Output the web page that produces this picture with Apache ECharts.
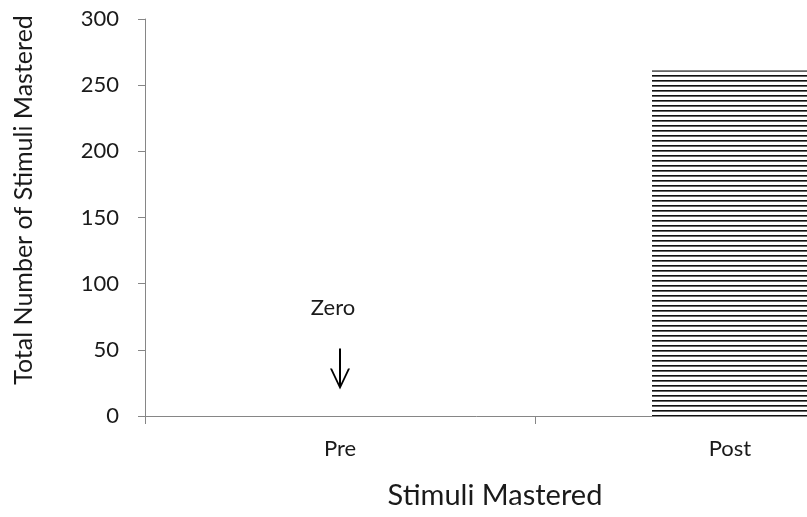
<!DOCTYPE html>
<html>
<head>
<meta charset="utf-8">
<script src="https://cdn.jsdelivr.net/npm/echarts@6/dist/echarts.min.js"></script>
<style>html,body{margin:0;padding:0;background:#fff}#c{width:807px;height:517px}</style>
</head>
<body>
<div id="c"></div>
<script>
const categories = ['Pre', 'Post'];
const values = [0, 261];
const yMin = 0, yMax = 300, yInterval = 50;
const xTitle = 'Stimuli Mastered';
const yTitle = 'Total Number of Stimuli Mastered';
const noteText = 'Zero';
const noteValue = 82;
const arrowFrom = 51;
const arrowTo = 28;

const FONT = 'Lato';
const pat = document.createElement('canvas');
pat.width = 8; pat.height = 5;
const pc = pat.getContext('2d');
pc.fillStyle = '#ffffff'; pc.fillRect(0, 0, 8, 5);
pc.fillStyle = '#111111'; pc.fillRect(0, 0, 8, 1);
pc.fillStyle = '#666666'; pc.fillRect(0, 1, 8, 1);

const chart = echarts.init(document.getElementById('c'), null, {renderer: 'canvas'});
chart.setOption({
  animation: false,
  backgroundColor: '#ffffff',
  grid: {left: 145, top: 19, width: 780, height: 397, containLabel: false, outerBoundsMode: 'none'},
  xAxis: {
    type: 'category',
    data: categories,
    axisLine: {show: true, lineStyle: {color: '#868686', width: 1}},
    axisTick: {show: true, length: 8, alignWithLabel: false, interval: 0, lineStyle: {color: '#868686'}},
    axisLabel: {color: '#1a1a1a', fontFamily: FONT, fontSize: 22, margin: 22, interval: 0}
  },
  yAxis: {
    type: 'value',
    min: yMin, max: yMax, interval: yInterval,
    axisLine: {show: true, lineStyle: {color: '#868686', width: 1}},
    axisTick: {show: true, length: 7, lineStyle: {color: '#868686'}},
    splitLine: {show: false},
    axisLabel: {color: '#1a1a1a', fontFamily: FONT, fontSize: 22, margin: 26}
  },
  graphic: [
    {type: 'text', x: 495, y: 496, style: {text: xTitle, fill: '#1a1a1a', font: '29px ' + FONT, textAlign: 'center', textVerticalAlign: 'middle'}},
    {type: 'text', x: 24, y: 200, rotation: Math.PI / 2, style: {text: yTitle, fill: '#1a1a1a', font: '25px ' + FONT, textAlign: 'center', textVerticalAlign: 'middle'}}
  ],
  series: [{
    type: 'bar',
    data: values,
    barWidth: '40%',
    itemStyle: {color: {image: pat, repeat: 'repeat'}},
    markPoint: {
      silent: true,
      symbol: 'circle', symbolSize: 1,
      itemStyle: {color: 'rgba(0,0,0,0)'},
      label: {show: true, formatter: noteText, color: '#1a1a1a', fontFamily: FONT, fontSize: 22, position: 'inside', offset: [-7, 0]},
      data: [{coord: [categories[0], noteValue]}]
    },
    markLine: {
      silent: true,
      symbol: ['none', 'path://M10,0 L20,21 L18,21 L10,4 L2,21 L0,21 Z M9,2 L11,2 L11,11 L9,11 Z'],
      symbolSize: [20, 21],
      label: {show: false},
      lineStyle: {color: '#000', width: 2, type: 'solid'},
      data: [[{coord: [categories[0], arrowFrom]}, {coord: [categories[0], arrowTo]}]]
    }
  }]
});
</script>
</body>
</html>
